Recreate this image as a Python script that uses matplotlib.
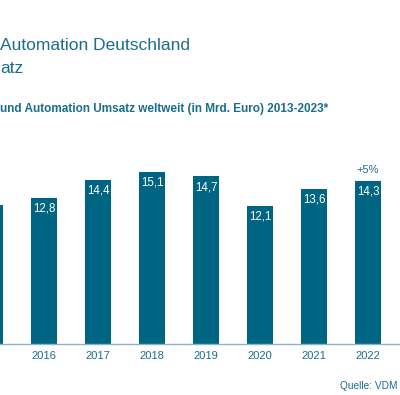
import matplotlib
matplotlib.use('Agg')
import matplotlib.pyplot as plt

plt.rcParams['font.family'] = ['Liberation Sans', 'DejaVu Sans']

years = [2015, 2016, 2017, 2018, 2019, 2020, 2021, 2022]
umsatz = [12.2, 12.8, 14.4, 15.1, 14.7, 12.1, 13.6, 14.3]
tick_labels = [str(y) for y in years]

bar_color = '#006483'
text_color = '#1b6d8c'

fig = plt.figure(figsize=(4.0, 3.95), dpi=100)
ax = fig.add_axes([0, 51 / 395, 1, 204 / 395])

ax.bar(years, umsatz, width=0.48, color=bar_color)
for y, v in zip(years, umsatz):
    ax.annotate(f'{v:.1f}'.replace('.', ','), (y, v), xytext=(0, -3.5),
                textcoords='offset points', ha='center', va='top',
                color='white', fontsize=8.3)

# Veraenderung zum Vorjahr
ax.annotate('+5%', (2022, umsatz[-1]), xytext=(0, 4), textcoords='offset points',
            ha='center', va='bottom', color=text_color, fontsize=8)

ax.set_xlim(2016 - 44 / 54, 2016 + 356 / 54)
ax.set_ylim(0, 17.9)
ax.set_xticks(years[1:])
ax.set_xticklabels(tick_labels[1:])
ax.tick_params(axis='x', length=0, pad=5, labelsize=8, labelcolor=text_color)
ax.set_yticks([])
for s in ['top', 'right', 'left']:
    ax.spines[s].set_visible(False)
ax.spines['bottom'].set_color('#8ab7c8')
ax.spines['bottom'].set_linewidth(1.0)

fig.text(0, 1 - 50 / 395, 'Automation Deutschland', color=text_color,
         fontsize=12.5, va='baseline', ha='left')
fig.text(0, 1 - 73 / 395, 'atz', color=text_color,
         fontsize=12.5, va='baseline', ha='left')
fig.text(0, 1 - 112 / 395, 'und Automation Umsatz weltweit (in Mrd. Euro) 2013-2023*',
         color=text_color, fontsize=8.5, fontweight='bold', va='baseline', ha='left')
fig.text(397 / 400, 1 - 389 / 395, 'Quelle: VDM', color=text_color,
         fontsize=7.3, va='baseline', ha='right')

fig.savefig('out.png', dpi=100)
